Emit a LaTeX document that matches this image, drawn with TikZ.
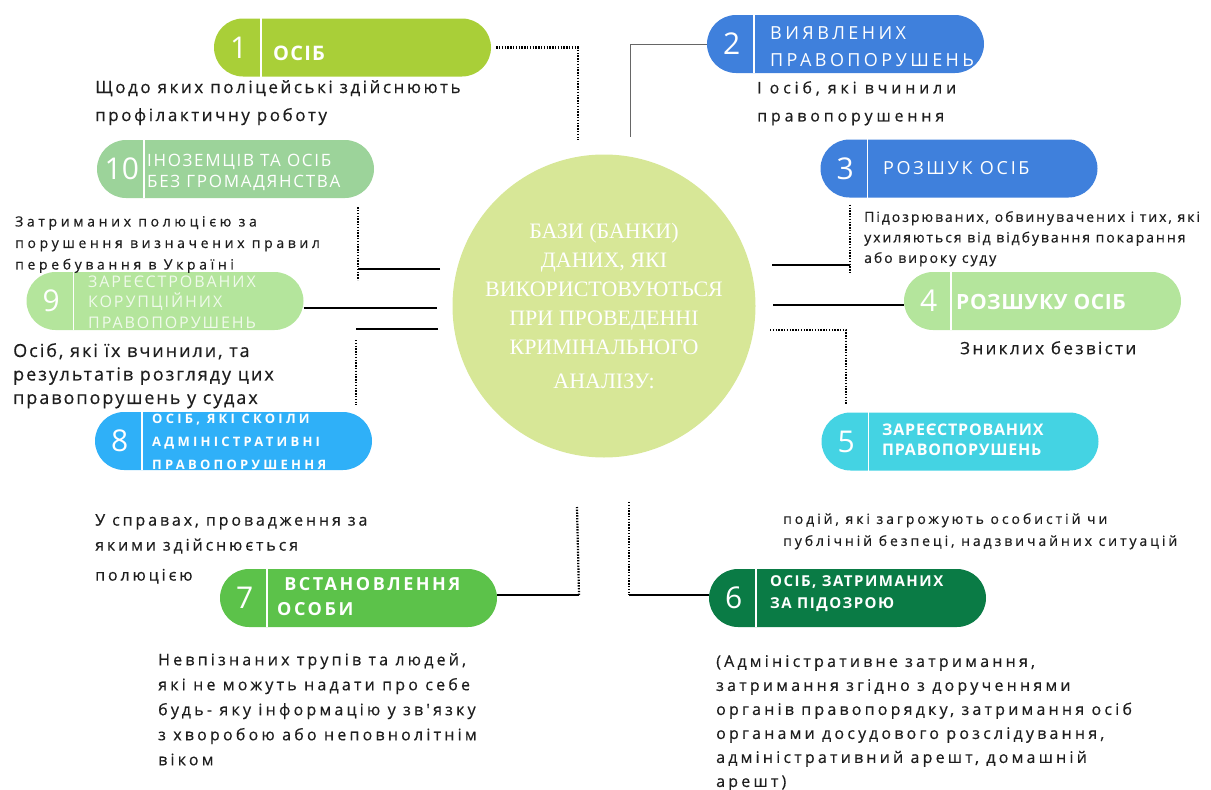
\documentclass[tikz,border=0pt]{standalone}
\usepackage{fontspec}
\setmainfont{Open Sans}
\newfontfamily\descfont{Open Sans}[FakeBold=0.5]
\newfontfamily\pillfont{Open Sans}
\newfontfamily\numfont{Open Sans}
\newfontfamily\hubfont{Liberation Serif}
\usetikzlibrary{positioning,calc}
\definecolor{hubfill}{RGB}{215,231,151}
\definecolor{pillA}{RGB}{169,207,56}
\definecolor{pillB}{RGB}{63,128,220}
\definecolor{pillC}{RGB}{180,229,156}
\definecolor{pillD}{RGB}{68,211,227}
\definecolor{pillE}{RGB}{10,123,69}
\definecolor{pillF}{RGB}{92,194,74}
\definecolor{pillG}{RGB}{47,176,248}
\definecolor{pillH}{RGB}{156,211,154}
\definecolor{txtgray}{RGB}{30,30,30}
\newcommand{\fs}[2]{\fontsize{#1}{#2}\selectfont}
\tikzset{
  pill/.style={rounded corners=29pt, minimum width=277pt, minimum height=58pt, inner sep=0pt},
  pillnum/.style={text=white, inner sep=0pt, font=\numfont\fs{30}{30}},
  pilltxt/.style={text=white, align=left, anchor=west, inner sep=0pt},
  desc/.style={text=txtgray, align=left, anchor=north west, inner sep=0pt},
  solidline/.style={line width=1.3pt},
  thinline/.style={line width=1pt, draw=black!60},
  heavyline/.style={line width=2.8pt},
  dotline/.style={line width=2.2pt, dash pattern=on 1.4pt off 1.4pt}
}
\begin{document}
\begin{tikzpicture}[x=1pt, y=-1pt]
  \useasboundingbox (0,0) rectangle (1211,790);
  % centre
  \node[circle, fill=hubfill, minimum size=303pt, inner sep=0pt, text=white, align=center,
        font=\hubfont\fs{22}{29}] (hub) at (604,306)
        {БАЗИ (БАНКИ)\\ДАНИХ, ЯКІ\\ВИКОРИСТОВУЮТЬСЯ\\ПРИ ПРОВЕДЕННІ\\КРИМІНАЛЬНОГО\\[5pt]АНАЛІЗУ:};
  % pills
  \foreach \n/\pos/\col in {1/{352.5,47.5}/pillA, 2/{845.5,44}/pillB, 3/{959,168.5}/pillB,
      4/{1042.5,301}/pillC, 5/{960,441.5}/pillD, 6/{847.5,598}/pillE, 7/{358.5,598}/pillF,
      8/{233.5,441}/pillG, 9/{165,301}/pillC, 10/{235.5,169}/pillH}{
    \node[pill, fill=\col] (p\n) at (\pos) {};
    \draw[white, line width=1.6pt] ([xshift=47pt]p\n.north west) -- ([xshift=47pt]p\n.south west);
    \node[pillnum] (n\n) at ([xshift=25pt]p\n.west) {\n};
  }
  % labels in pills
  \node[pilltxt, font=\pillfont\bfseries\addfontfeature{LetterSpace=6}\fs{20}{22}] (l1) at (273,53) {ОСІБ};
  \node[pilltxt, font=\pillfont\addfontfeature{LetterSpace=19}\fs{18}{27}] (l2) at (770,46.5) {ВИЯВЛЕНИХ\\ПРАВОПОРУШЕНЬ};
  \node[pilltxt, font=\pillfont\addfontfeature{LetterSpace=15}\fs{18}{22}] (l3) at (883,168) {РОЗШУК ОСІБ};
  \node[pilltxt, font=\pillfont\bfseries\addfontfeature{LetterSpace=3}\fs{21}{24}] (l4) at (956,302) {РОЗШУКУ ОСІБ};
  \node[pilltxt, font=\pillfont\bfseries\addfontfeature{LetterSpace=5}\fs{16}{20}] (l5) at (882,440) {ЗАРЕЄСТРОВАНИХ\\ПРАВОПОРУШЕНЬ};
  \node[pilltxt, font=\pillfont\bfseries\addfontfeature{LetterSpace=10}\fs{15}{22}] (l6) at (770,594) {ОСІБ, ЗАТРИМАНИХ\\ЗА ПІДОЗРОЮ};
  \node[pilltxt, font=\pillfont\bfseries\addfontfeature{LetterSpace=14}\fs{18}{25}] (l7) at (277,597) {\ ВСТАНОВЛЕННЯ\\ОСОБИ};
  \node[pilltxt, font=\pillfont\bfseries\addfontfeature{LetterSpace=25}\fs{13}{23}] (l8) at (152,442) {ОСІБ, ЯКІ СКОІЛИ\\АДМІНІСТРАТИВНІ\\ПРАВОПОРУШЕННЯ};
  \node[pilltxt, text=white!80!pillC, font=\pillfont\addfontfeature{LetterSpace=12}\fs{16}{20.5}] (l9) at (88,302) {ЗАРЕЄСТРОВАНИХ\\КОРУПЦІЙНИХ\\ПРАВОПОРУШЕНЬ};
  \node[pilltxt, font=\pillfont\addfontfeature{LetterSpace=10}\fs{17}{21}] (l10) at (147,172) {ІНОЗЕМЦІВ ТА ОСІБ\\БЕЗ ГРОМАДЯНСТВА};
  % descriptions
  \node[desc, font=\descfont\addfontfeature{LetterSpace=15}\fs{17}{28}] (d1) at (95,80)
    {Щодо яких поліцейські здійснюють\\профілактичну роботу};
  \node[desc, font=\descfont\addfontfeature{LetterSpace=24}\fs{16}{28}] (d2) at (757,81)
    {І осіб, які вчинили\\правопорушення};
  \node[desc, font=\descfont\addfontfeature{LetterSpace=26}\fs{14}{21.5}] (d10) at (15,216)
    {Затриманих полюцією за\\порушення визначених правил\\перебування в Україні};
  \node[desc, font=\descfont\addfontfeature{LetterSpace=14}\fs{14}{20.5}] (d3) at (864,211)
    {Підозрюваних, обвинувачених і тих, які\\ухиляються від відбування покарання\\або вироку суду};
  \node[desc, font=\descfont\addfontfeature{LetterSpace=14}\fs{17}{22}] (d4) at (960,341)
    {Зниклих безвісти};
  \node[desc, font=\descfont\addfontfeature{LetterSpace=11}\fs{18}{23.5}] (d9) at (13,343)
    {Осіб, які їх вчинили, та\\результатів розгляду цих\\правопорушень у судах};
  \node[desc, font=\descfont\addfontfeature{LetterSpace=18}\fs{16}{25}] (d7a) at (95,514)
    {У справах, провадження за\\якими здійснюється\\[5pt]полюцією};
  \node[desc, font=\descfont\addfontfeature{LetterSpace=20}\fs{16}{25}] (d7) at (158,653)
    {Невпізнаних трупів та людей,\\які не можуть надати про себе\\будь- яку інформацію у зв'язку\\з хворобою або неповнолітнім\\віком};
  \node[desc, font=\descfont\addfontfeature{LetterSpace=21}\fs{14}{22}] (d5) at (783,513)
    {подій, які загрожують особистій чи\\публічній безпеці, надзвичайних ситуацій};
  \node[desc, font=\descfont\addfontfeature{LetterSpace=20}\fs{16}{24}] (d6) at (716,655)
    {(Адміністративне затримання,\\затримання згідно з дорученнями\\органів правопорядку, затримання осіб\\органами досудового розслідування,\\адміністративний арешт, домашній\\арешт)};
  % connector ends
  \coordinate (c1) at (578,140);
  \coordinate (c2) at (630,137);
  \coordinate (k3) at (772,265);  \coordinate (c3) at (850,265);
  \coordinate (k4) at (773,305);
  \coordinate (k5) at (770,330);  \coordinate (c5) at (846,404);
  \coordinate (k6) at (629,502);  \coordinate (c6) at (629,595);
  \coordinate (k7) at (577,507);  \coordinate (c7) at (579,595);
  \coordinate (k8) at (438,329);  \coordinate (c8) at (356,329);
  \coordinate (k9) at (437,308);
  \coordinate (k10) at (440,269); \coordinate (c10) at (358,269);
  % connectors
  \draw[dotline] ([xshift=5pt]p1.east) -| (c1);
  \draw[thinline] (p2.west) -| (c2);
  \draw[dotline] ([yshift=-7pt]p3.south -| c3) -- ([yshift=-7pt]c3);
  \draw[heavyline] (k3) -- (c3);
  \draw[heavyline] (k4) -- (k4 -| p4.west);
  \draw[dotline] (k5) -| (c5);
  \draw[dotline] (k6) -- (c6);
  \draw[solidline] (c6) -- (c6 -| p6.west);
  \draw[solidline] (c7 -| p7.east) -- (c7);
  \draw[dotline] (c7) -- (k7);
  \draw[solidline] (k8) -- (c8);
  \draw[dotline] ([yshift=-11pt]c8) -- ([yshift=7pt]c8 |- p8.north);
  \draw[solidline] (k9 -| p9.east) -- (k9);
  \draw[solidline] (k10) -- (c10);
  \draw[dotline] ([yshift=-9pt]c10 |- p10.south) -- ([yshift=-11pt]c10);
\end{tikzpicture}
\end{document}
